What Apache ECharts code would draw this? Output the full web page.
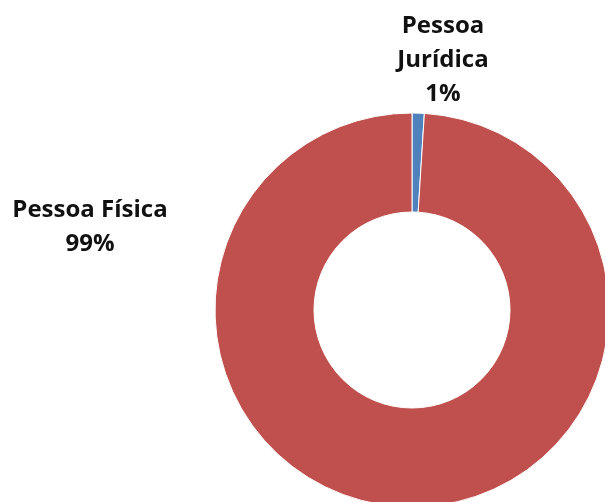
<!DOCTYPE html>
<html>
<head>
<meta charset="utf-8">
<script src="https://cdn.jsdelivr.net/npm/echarts@6/dist/echarts.min.js"></script>
<style>
  html, body { margin: 0; padding: 0; background: #fff; }
  #chart { width: 605px; height: 502px; }
</style>
</head>
<body>
<div id="chart"></div>
<script>
  var categories = ['Pessoa Jurídica', 'Pessoa Física'];
  var values = [1, 99];
  var sliceColors = ['#4F81BD', '#C0504D'];

  // label anchor points (centre of text block)
  var labelSpots = [[443, 60], [90, 227]];

  var chart = echarts.init(document.getElementById('chart'));

  chart.setOption({
    animation: false,
    series: [{
      type: 'pie',
      center: [412, 310],
      radius: [98, 197],
      startAngle: 90,
      clockwise: true,
      data: categories.map(function (name, i) {
        return { name: name, value: values[i], itemStyle: { color: sliceColors[i] } };
      }),
      itemStyle: { borderColor: '#fff', borderWidth: 1 },
      labelLine: { show: false },
      label: {
        show: true,
        position: 'outside',
        formatter: function (p) {
          var name = p.name;
          if (p.dataIndex === 0) name = name.replace(' ', '\n');
          return name + '\n' + p.percent.toFixed(0) + '%';
        },
        fontFamily: 'Open Sans',
        fontWeight: 'bold',
        fontSize: 24,
        lineHeight: 34,
        color: '#111',
        align: 'center'
      },
      labelLayout: function (params) {
        var s = labelSpots[params.dataIndex];
        return { x: s[0], y: s[1], align: 'center', verticalAlign: 'middle' };
      }
    }]
  });
</script>
</body>
</html>
